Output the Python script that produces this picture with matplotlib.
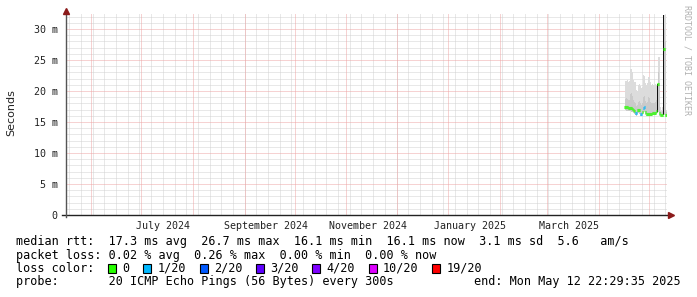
import numpy as np
import pandas as pd
import matplotlib
matplotlib.use('Agg')
import matplotlib.pyplot as plt
import matplotlib.dates as mdates
from matplotlib.patches import Rectangle
from matplotlib.lines import Line2D

# graph window: 360 days up to the probe end time
t_end = pd.Timestamp('2025-05-12 22:29:35')
t_start = t_end - pd.Timedelta(days=360)

# one column per rrd step (14.4 h), values in ms
times = pd.date_range(end='2025-05-12 22:00', periods=43, freq='864min')
median = [17.5, 17.5, 17.4, 17.4, 17.3, 17.3, 17.2, 17.2, 17.1, 17.0,
          16.8, 16.5, 16.4, 16.9, 17.0, 16.9, 16.3, 16.3, 16.6, 17.2,
          17.4, 16.6, 16.3, 16.3, 16.3, 16.3, 16.3, 16.3, 16.4, 16.5,
          16.5, 16.5, 16.8, 21.1, 21.1, 16.4, 16.2, 16.2, 16.2, 26.7,
          26.7, 16.1, 16.1]
# loss class per column (index into loss_labels / loss_colors)
loss = [0] * 11 + [1, 1] + [0, 0, 0] + [1, 1] + [0] + [1, 1] + [0] * 22
smoke_lo = [16.9, 16.9, 16.8, 16.8, 16.8, 16.7, 16.7, 16.6, 16.6, 16.5,
            16.3, 16.1, 16.0, 16.3, 16.4, 16.3, 16.0, 16.0, 16.1, 16.4,
            16.6, 16.1, 16.0, 16.0, 16.0, 16.0, 16.0, 16.0, 16.1, 16.1,
            16.1, 16.1, 16.3, 16.5, 16.6, 16.0, 16.0, 16.0, 16.0, 16.1,
            16.1, 15.9, 15.9]
smoke_hi = [21.7, 21.6, 21.6, 21.7, 21.5, 21.6, 23.6, 23.5, 23.0, 21.7,
            21.5, 21.4, 20.2, 20.0, 21.0, 21.2, 20.8, 20.5, 20.6, 22.6,
            22.5, 21.3, 21.0, 21.3, 22.3, 22.2, 21.5, 21.0, 21.1, 21.0,
            20.9, 21.1, 21.0, 21.2, 25.5, 25.5, 17.5, 17.0, 17.5, 32.3,
            32.3, 32.3, 17.0]
smoke_mid = [18.8, 18.7, 18.8, 18.7, 18.5, 18.6, 19.5, 19.6, 19.2, 18.5,
             18.3, 18.0, 17.6, 17.8, 18.3, 18.4, 18.0, 17.8, 18.0, 19.0,
             19.2, 18.4, 18.1, 18.3, 19.0, 18.9, 18.3, 18.0, 18.1, 18.0,
             18.0, 18.2, 18.5, 21.1, 23.0, 21.0, 16.8, 16.6, 16.8, 30.0,
             30.0, 28.0, 16.6]
nan = np.nan
# dense (near black) part of the smoke in the two spike columns
core_lo = [nan] * 32 + [16.6, 16.6] + [nan] * 4 + [16.2, 16.2] + [nan] * 3
core_hi = [nan] * 32 + [21.0, 21.1] + [nan] * 4 + [32.3, 32.3] + [nan] * 3

loss_labels = ['0', '1/20', '2/20', '3/20', '4/20', '10/20', '19/20']
loss_colors = ['#26ff00', '#00b8ff', '#0059ff', '#5e00ff', '#7e00ff', '#dd00ff', '#ff0000']

label_dates = ['2024-07-15', '2024-09-15', '2024-11-15', '2025-01-15', '2025-03-15']
label_texts = ['July 2024', 'September 2024', 'November 2024', 'January 2025', 'March 2025']
ytick_vals = [0, 5, 10, 15, 20, 25, 30]

legend_lines = [
    'median rtt:  17.3 ms avg  26.7 ms max  16.1 ms min  16.1 ms now  3.1 ms sd  5.6   am/s',
    'packet loss: 0.02 % avg  0.26 % max  0.00 % min  0.00 % now',
]
probe_text = 'probe:       20 ICMP Echo Pings (56 Bytes) every 300s'
end_text = 'end: Mon May 12 22:29:35 2025'

W, H = 697, 297
mono = 'DejaVu Sans Mono'
fig = plt.figure(figsize=(W / 100, H / 100), dpi=100, facecolor='white')

# plot area in pixels
px_l, px_r, px_t, px_b = 66, 667, 13, 215
ax = fig.add_axes([px_l / W, 1 - px_b / H, (px_r - px_l) / W, (px_b - px_t) / H])
ax.set_facecolor('white')

x0 = mdates.date2num(t_start.to_pydatetime())
x1 = mdates.date2num(t_end.to_pydatetime())
tn = mdates.date2num(times.to_pydatetime())
step = 0.6
ymax = (px_b - px_t) / 6.2

ax.set_xlim(x0, x1)
ax.set_ylim(0, ymax)

# grid: 1px dotted
dot = (0, (1, 1))
gkw = dict(lw=0.72, ls=dot)
for d in pd.date_range(t_start, t_end, freq='W-SUN'):
    ax.axvline(mdates.date2num(d.to_pydatetime()), color='#d2d2d2', zorder=0, **gkw)
for v in np.arange(1, 33, 1):
    if v % 5:
        ax.axhline(v, color='#d2d2d2', zorder=0, **gkw)
for d in pd.date_range(t_start, t_end, freq='MS'):
    ax.axvline(mdates.date2num(d.to_pydatetime()), color='#eea6a6', zorder=0.5, **gkw)
for v in ytick_vals[1:]:
    ax.axhline(v, color='#eea6a6', zorder=0.5, **gkw)

# smoke
ax.fill_between(tn, smoke_lo, smoke_hi, step='mid', color='#dcdcdc', lw=0, zorder=1)
ax.fill_between(tn, smoke_lo, smoke_mid, step='mid', color='#cacaca', lw=0, zorder=1.1)
ax.fill_between(tn, core_lo, core_hi, step='mid', color='#111111', lw=0, zorder=1.2)

# median, coloured by loss
ax.hlines(median, tn - step / 2, tn + step / 2,
          colors=[loss_colors[i] for i in loss], lw=2.2, zorder=2)

# axes
for s in ax.spines.values():
    s.set_visible(False)
ax.tick_params(length=0)
ax.set_yticks(ytick_vals)
ax.set_yticklabels(['0' if v == 0 else f'{v} m' for v in ytick_vals],
                   fontsize=7.2, family=mono, color='#222222')
ax.tick_params(axis='y', pad=6)
ax.set_xticks([mdates.date2num(pd.Timestamp(d).to_pydatetime()) for d in label_dates])
ax.set_xticklabels(label_texts, fontsize=7.2, family=mono, color='#222222')
ax.tick_params(axis='x', pad=4)

axc = '#222222'
arrow = '#8b1a1a'
wpx = px_r - px_l
hpx = px_b - px_t
ax.add_line(Line2D([-4 / wpx, 1 + 1 / wpx], [0, 0], transform=ax.transAxes,
                   color=axc, lw=1.0, clip_on=False, zorder=5))
ax.add_line(Line2D([0, 0], [-2 / hpx, 1], transform=ax.transAxes,
                   color='#555555', lw=1.0, clip_on=False, zorder=5))
ax.plot([1 + 4 / wpx], [0], marker='>', ms=4, color=arrow, transform=ax.transAxes,
        clip_on=False, zorder=6)
ax.plot([0], [1 + 2 / hpx], marker='^', ms=4, color=arrow, transform=ax.transAxes,
        clip_on=False, zorder=6)

# labels
fig.text(11 / W, 1 - 113 / H, 'Seconds', rotation=90, ha='center', va='center',
         fontsize=8, family='DejaVu Sans', color='#222222')
fig.text(687 / W, 1 - 60 / H, 'RRDTOOL / TOBI OETIKER', rotation=270, ha='center',
         va='center', fontsize=6, family=mono, color='#b0b0b0')

fs = 8.45
cw = 7.07
ys = [241, 255, 268, 282]
for yy, line in zip(ys[:2], legend_lines):
    fig.text(16 / W, 1 - yy / H, line, ha='left', va='center', fontsize=fs, family=mono, color='black')
fig.text(16 / W, 1 - ys[2] / H, 'loss color:', ha='left', va='center', fontsize=fs, family=mono, color='black')
bx = 108
for lab, col in zip(loss_labels, loss_colors):
    fig.patches.append(Rectangle((bx / W, 1 - (ys[2] + 4.5) / H), 8 / W, 9 / H,
                                 transform=fig.transFigure, facecolor=col,
                                 edgecolor='black', lw=0.8))
    fig.text((bx + 14) / W, 1 - ys[2] / H, lab, ha='left', va='center', fontsize=fs,
             family=mono, color='black')
    bx += 14 + (len(lab) + 2) * cw
fig.text(16 / W, 1 - ys[3] / H, probe_text, ha='left', va='center', fontsize=fs, family=mono, color='black')
fig.text(681 / W, 1 - ys[3] / H, end_text, ha='right', va='center', fontsize=fs, family=mono, color='black')

fig.savefig('out.png', dpi=100, facecolor='white')
